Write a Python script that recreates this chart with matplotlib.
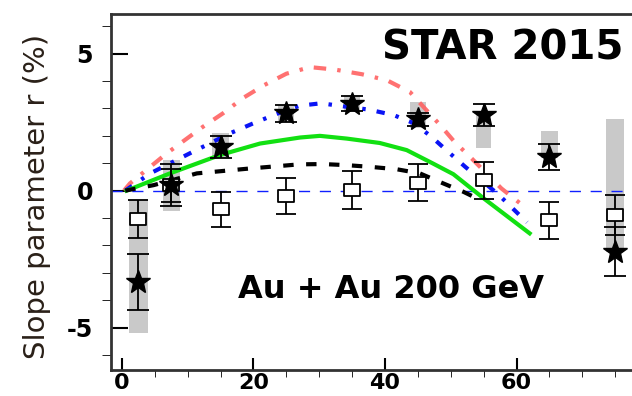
import numpy as np
import matplotlib
matplotlib.use("Agg")
import matplotlib.pyplot as plt
from matplotlib.path import Path

plt.rcParams['lines.scale_dashes'] = False
plt.rcParams['axes.unicode_minus'] = False

# centrality bins (%)
cent = [2.5, 7.5, 15, 25, 35, 45, 55, 65, 75]

# filled stars with stat errors and asymmetric systematic boxes
star_r = [-3.33, 0.2, 1.6, 2.82, 3.18, 2.6, 2.76, 1.23, -2.23]
star_err = [1.03, 0.77, 0.4, 0.3, 0.28, 0.25, 0.4, 0.48, 0.9]
sys_lo = [1.86, 0.94, 0.4, 0.3, 0.3, 0.33, 1.22, 0.03, 0.0]
sys_hi = [2.98, 0.91, 0.5, 0.3, 0.3, 0.64, 0.14, 0.95, 4.86]
box_w = [3.0, 2.5, 2.6, 2.4, 2.4, 2.4, 2.2, 2.7, 2.8]

# open squares
sq_r = [-1.04, 0.2, -0.68, -0.2, 0.02, 0.29, 0.38, -1.08, -0.89]
sq_err = [0.7, 0.6, 0.64, 0.67, 0.7, 0.68, 0.68, 0.68, 0.72]

# model curves
red_x = [0.3, 1.2, 6.8, 12.3, 15.4, 18.4, 21.6, 25, 28.6, 32.4, 36.5, 40.3, 43.8, 46.3, 48.4, 50.5, 53.2, 57.7, 61]
red_y = [0.0, 0.26, 1.36, 2.33, 2.83, 3.38, 3.85, 4.27, 4.51, 4.42, 4.25, 4.03, 3.6, 2.94, 2.39, 1.8, 1.17, 0.08, -0.55]
blue_x = [0.5, 4.3, 10.3, 16.4, 19.9, 23.5, 27, 30.3, 33.6, 37.5, 41.3, 44.5, 47.1, 49.6, 52.2, 57.2, 61.6]
blue_y = [0.0, 0.63, 1.36, 2.09, 2.45, 2.8, 3.1, 3.19, 3.08, 2.96, 2.76, 2.45, 1.96, 1.42, 0.87, -0.13, -1.16]
green_x = [0.7, 7.3, 14.9, 21, 27.1, 30.1, 34.2, 39.2, 43.3, 47.3, 50.4, 55, 62]
green_y = [0.0, 0.63, 1.3, 1.72, 1.94, 2.0, 1.9, 1.74, 1.48, 0.99, 0.6, -0.28, -1.56]
black_x = [0.5, 4.8, 11.4, 19.5, 27, 30.6, 34.2, 37.7, 41.8, 45.3, 48.9, 51.9, 54.8]
black_y = [0.0, 0.2, 0.63, 0.81, 0.96, 0.97, 0.93, 0.87, 0.78, 0.63, 0.26, -0.04, -0.38]

fig = plt.figure(figsize=(6.32, 3.96), dpi=100)
ax = fig.add_axes([111/632, 26/396, 0.8497, 356/396])

cent = np.array(cent)
star_r = np.array(star_r)
sys_lo = np.array(sys_lo)
sys_hi = np.array(sys_hi)

ax.bar(cent, sys_lo + sys_hi, bottom=star_r - sys_lo, width=box_w,
       color='#c9c9c9', zorder=1)

ax.axhline(0, color='#1020ff', lw=1, ls=(0, (8, 7)), zorder=2)

ax.plot(red_x, red_y, color='#ff6262', lw=3, ls=(0, (9, 8, 2.5, 8)), alpha=0.9, zorder=3)
ax.plot(blue_x, blue_y, color='#0a14f5', lw=3, ls=(0, (6, 8, 2.5, 8)), zorder=3)
ax.plot(green_x, green_y, color='#12e012', lw=3, zorder=3)
ax.plot(black_x, black_y, color='black', lw=3, ls=(0, (7.5, 9)), zorder=3)

rect = Path([(-1.3, -1), (1.3, -1), (1.3, 1), (-1.3, 1), (-1.3, -1)],
            [Path.MOVETO, Path.LINETO, Path.LINETO, Path.LINETO, Path.CLOSEPOLY])
ax.errorbar(cent, sq_r, yerr=sq_err, fmt='none', ecolor='black', elinewidth=1.3,
            capsize=7, capthick=1.3, zorder=4)
ax.plot(cent, sq_r, ls='none', marker=rect, ms=12, mfc='white', mec='black',
        mew=1.3, zorder=5)
ax.errorbar(cent, star_r, yerr=star_err, fmt='none', ecolor='black', elinewidth=1.3,
            capsize=8, capthick=1.3, zorder=6)
ax.plot(cent, star_r, ls='none', marker='*', ms=18, mfc='black', mec='black', zorder=7)

ax.set_xlim(-1.67, 80)
ax.set_ylim(-6.55, 6.45)
ax.set_xticks([0, 20, 40, 60])
ax.set_xticks(np.arange(0, 81, 5), minor=True)
ax.set_yticks([-5, 0, 5])
ax.set_yticks(np.arange(-6, 7, 1), minor=True)
ax.tick_params(axis='both', direction='in', colors='black', width=1.5)
ax.tick_params(axis='y', which='major', length=12, pad=13, labelsize=17)
ax.tick_params(axis='y', which='minor', length=6.5)
ax.tick_params(axis='x', which='major', length=9, pad=2, labelsize=16)
ax.tick_params(axis='x', which='minor', length=5)
for lab in ax.get_xticklabels() + ax.get_yticklabels():
    lab.set_fontweight('bold')
ax.spines['right'].set_visible(False)
for s in ['left', 'top', 'bottom']:
    ax.spines[s].set_linewidth(2)
    ax.spines[s].set_color('#333333')

fig.text(37/632, 1 - 196/396, 'Slope parameter r (%)', rotation=90,
         ha='center', va='center', fontsize=21, color='#2a2018')
fig.text(623/632, 1 - 49/396, 'STAR 2015', ha='right', va='center',
         fontsize=29, fontweight='bold')
fig.text(238/632, 1 - 289/396, 'Au + Au 200 GeV', ha='left', va='center',
         fontsize=23, fontweight='bold')

fig.savefig('out.png', dpi=100)
